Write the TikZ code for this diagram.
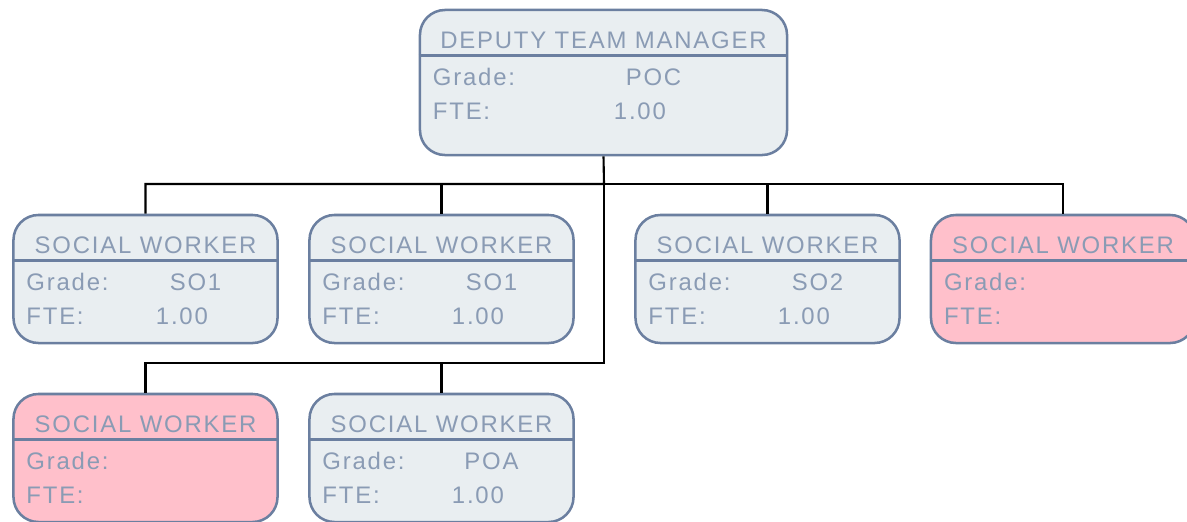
\documentclass[tikz,border=0pt]{standalone}
\usepackage{fontspec}
\setmainfont[LetterSpace=7.5]{Liberation Sans}
\usepackage{xcolor}
\usepackage{tikz}
\usetikzlibrary{positioning}

\definecolor{postfill}{HTML}{E9EEF1}
\definecolor{vacant}{HTML}{FFC0CB}
\definecolor{postedge}{HTML}{6B7FA0}
\definecolor{posttext}{HTML}{8A9BB4}

% one post: name, position, box style, fill, title, grade, fte
\newcommand{\postbox}[7]{%
  \node[#3, fill=#4] (#1) at (#2) {};
  \draw[postedge, line width=1.8pt] ([yshift=-1.175cm]#1.north west) -- ([yshift=-1.175cm]#1.north east);
  \node[posttitle] (#1-title) at ([yshift=-0.79cm]#1.north) {#5};
  \node[postlbl] (#1-glbl) at ([xshift=0.35cm, yshift=-1.92cm]#1.north west) {Grade:};
  \node[postlbl] (#1-flbl) at ([xshift=0.35cm, yshift=-2.77cm]#1.north west) {FTE:};
  \node[postval] (#1-grade) at ([xshift=1.25cm, yshift=-1.92cm]#1.north) {#6};
  \node[postval] (#1-fte) at ([xshift=0.91cm, yshift=-2.77cm]#1.north) {#7};
}

\begin{document}
\begin{tikzpicture}[
    x=0.025cm, y=-0.025cm,
    post/.style={rectangle, rounded corners=0.625cm, draw=postedge, line width=1.8pt, minimum width=6.6cm, minimum height=3.2cm, inner sep=0pt},
    mgrpost/.style={post, minimum width=9.175cm, minimum height=3.625cm},
    posttitle/.style={inner sep=0pt, text=posttext, font=\fontsize{17}{20}\selectfont},
    postlbl/.style={anchor=base west, inner sep=0pt, text=posttext, font=\fontsize{17}{20}\selectfont},
    postval/.style={anchor=base, inner sep=0pt, text=posttext, font=\fontsize{17}{20}\selectfont},
    link/.style={draw=black, line width=1.5pt}
]
\useasboundingbox (0,0) rectangle (1187,521);

\coordinate (bus1) at (604,184);
\coordinate (bus2) at (604,363);

\postbox{mgr}{603.5,82.5}{mgrpost}{postfill}{DEPUTY TEAM MANAGER}{POC}{1.00}

\postbox{sw1}{145.5,279}{post}{postfill}{SOCIAL WORKER}{SO1}{1.00}
\postbox{sw2}{441.5,279}{post}{postfill}{SOCIAL WORKER}{SO1}{1.00}
\postbox{sw3}{767.5,279}{post}{postfill}{SOCIAL WORKER}{SO2}{1.00}
\postbox{sw4}{1063,279}{post}{vacant}{SOCIAL WORKER}{}{}
\postbox{sw5}{145.5,458}{post}{vacant}{SOCIAL WORKER}{}{}
\postbox{sw6}{441.5,458}{post}{postfill}{SOCIAL WORKER}{POA}{1.00}

\draw[link] (mgr.south) -- (bus1) -| (sw1.north);
\draw[link] (bus1) -| (sw2.north);
\draw[link] (bus1) -| (sw3.north);
\draw[link] (bus1) -| (sw4.north);
\draw[link] (bus1) -- (bus2) -| (sw5.north);
\draw[link] (bus2) -| (sw6.north);

\end{tikzpicture}
\end{document}
